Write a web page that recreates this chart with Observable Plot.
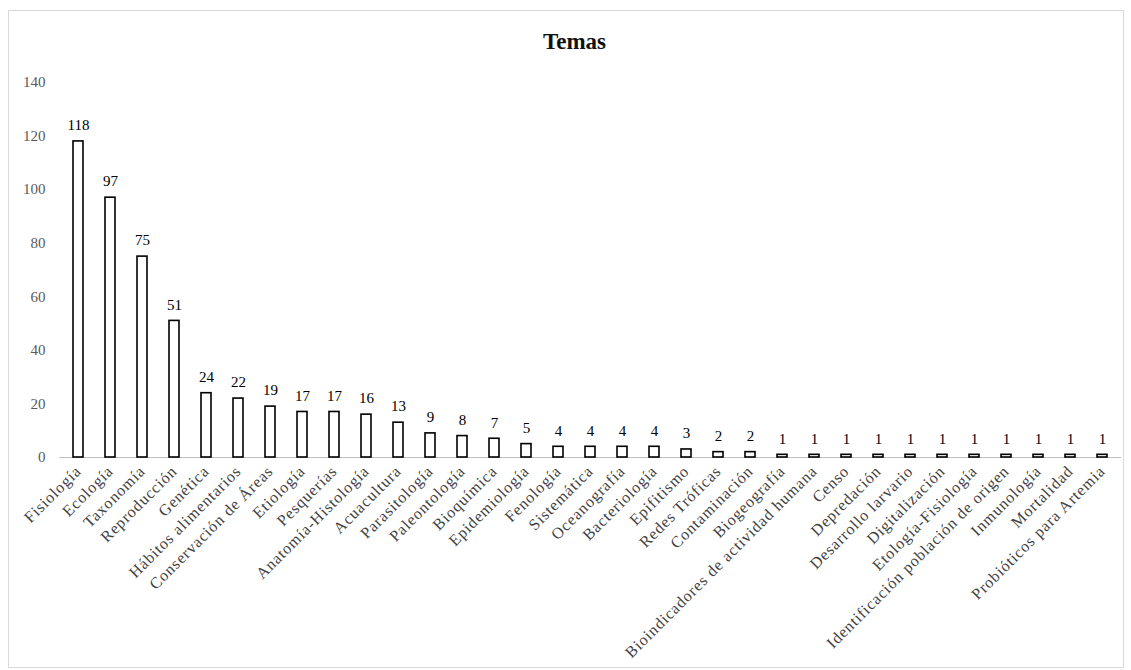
<!DOCTYPE html>
<html>
<head>
<meta charset="utf-8">
<script src="https://cdn.jsdelivr.net/npm/d3@7"></script>
<script src="https://cdn.jsdelivr.net/npm/@observablehq/plot@0.6"></script>
<style>
  html, body { margin: 0; padding: 0; background: #fff; }
  #frame { position: absolute; left: 8px; top: 10px; width: 1114px; height: 656px; border: 1px solid #d9d9d9; }
  #title { position: absolute; left: 0; top: 29px; width: 1131px; text-align: center; font: bold 23px "Liberation Serif", "Times New Roman", serif; color: #111; padding-left: 18px; box-sizing: border-box; }
  #chart { position: absolute; left: 0; top: 60px; }
  #chart g[aria-label="x-axis tick label"] text { letter-spacing: 0.9px; }
</style>
</head>
<body>
<div id="frame"></div>
<div id="title">Temas</div>
<div id="chart"></div>
<script>
const temas = ["Fisiología","Ecología","Taxonomía","Reproducción","Genética","Hábitos alimentarios","Conservación de Áreas","Etiología","Pesquerías","Anatomía-Histología","Acuacultura","Parasitología","Paleontología","Bioquímica","Epidemiología","Fenología","Sistemática","Oceanografía","Bacteriología","Epifitismo","Redes Tróficas","Contaminación","Biogeografía","Bioindicadores de actividad humana","Censo","Depredación","Desarrollo larvario","Digitalización","Etología-Fisiología","Identificación población de origen","Inmunología","Mortalidad","Probióticos para Artemia"];
const valores = [118,97,75,51,24,22,19,17,17,16,13,9,8,7,5,4,4,4,4,3,2,2,1,1,1,1,1,1,1,1,1,1,1];
const yTicks = [0,20,40,60,80,100,120,140];

const data = temas.map((t, i) => ({tema: t, valor: valores[i]}));
const serif = '"Liberation Serif", "Times New Roman", serif';

const chart = Plot.plot({
  width: 1131,
  height: 610,
  marginTop: 22,
  marginBottom: 213,
  marginLeft: 59,
  marginRight: 10,
  style: {fontFamily: serif, fontSize: "15px", background: "transparent"},
  x: {domain: temas, paddingInner: 0.69, paddingOuter: 0.345, label: null},
  y: {domain: [0, 140], label: null},
  marks: [
    Plot.axisY({ticks: yTicks, tickSize: 0, tickPadding: 14, fontSize: 15, color: "#595959", label: null}),
    Plot.axisX({tickSize: 0, tickRotate: -45, tickPadding: 11, fontSize: 16, color: "#404040", label: null}),
    Plot.ruleY([0], {stroke: "#bfbfbf", strokeWidth: 1}),
    Plot.barY(data, {x: "tema", y: "valor", fill: "white", stroke: "black", strokeWidth: 1.6}),
    Plot.text(data, {x: "tema", y: "valor", text: d => String(d.valor), dy: -16, fontSize: 15, fill: "black"})
  ]
});
document.getElementById("chart").appendChild(chart);
</script>
</body>
</html>
